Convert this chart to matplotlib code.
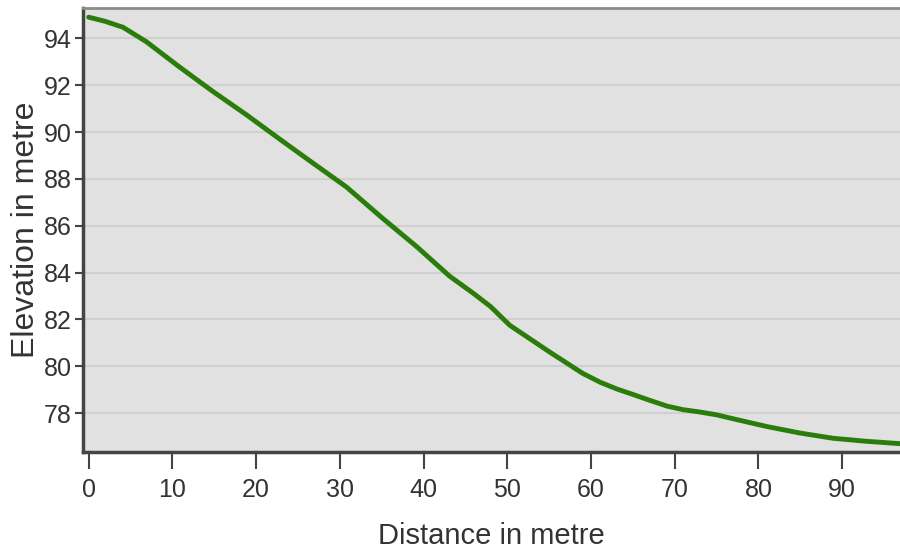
import matplotlib
matplotlib.use("Agg")
import matplotlib.pyplot as plt

# Profile
distance = [0, 2.0, 4.1, 6.9, 10.9, 14.8, 18.9, 22.8, 26.8, 30.8, 35.0, 39.2,
            43.1, 46.0, 48.0, 50.3, 55.1, 59.0, 61.1, 63.1, 65.0, 67.0, 69.1,
            71.0, 73.0, 75.0, 77.0, 81.0, 85.0, 88.9, 92.9, 96.9]
elevation = [94.9, 94.72, 94.47, 93.85, 92.76, 91.74, 90.72, 89.7, 88.67, 87.65,
             86.35, 85.1, 83.85, 83.1, 82.55, 81.75, 80.6, 79.7, 79.32, 79.03,
             78.8, 78.55, 78.3, 78.15, 78.05, 77.93, 77.76, 77.43, 77.15, 76.93,
             76.8, 76.7]
xticks = [0, 10, 20, 30, 40, 50, 60, 70, 80, 90]
yticks = [78, 80, 82, 84, 86, 88, 90, 92, 94]

plt.rcParams["font.family"] = ["Liberation Sans", "DejaVu Sans"]

fig = plt.figure(figsize=(9, 5.52), dpi=100)
ax = fig.add_axes([0.092, 0.181, 0.908, 0.804])
ax.set_facecolor("#e1e1e1")

ax.plot(distance, elevation, color="#2a7d0a", linewidth=3.5,
        solid_capstyle="round", solid_joinstyle="round")

ax.set_xlim(-0.7, 96.9)
ax.set_ylim(76.34, 95.28)
ax.set_xticks(xticks)
ax.set_yticks(yticks)
ax.grid(axis="y", color="#d0d0d0", linewidth=1.5)
ax.set_axisbelow(True)

for side in ["left", "bottom"]:
    ax.spines[side].set_color("#444444")
    ax.spines[side].set_linewidth(2.5)
ax.spines["top"].set_color("#8a8a8a")
ax.spines["top"].set_linewidth(2)
ax.spines["right"].set_visible(False)

ax.tick_params(axis="x", length=12, width=1.5, color="#444444", labelsize=18,
               labelcolor="#333333", pad=7)
ax.tick_params(axis="y", length=6, width=1.5, color="#444444", labelsize=18,
               labelcolor="#333333", pad=2)

ax.set_xlabel("Distance in metre", fontsize=21, color="#333333", labelpad=14)
ax.set_ylabel("Elevation in metre", fontsize=23, color="#333333", labelpad=2)

fig.savefig("out.png", dpi=100)
